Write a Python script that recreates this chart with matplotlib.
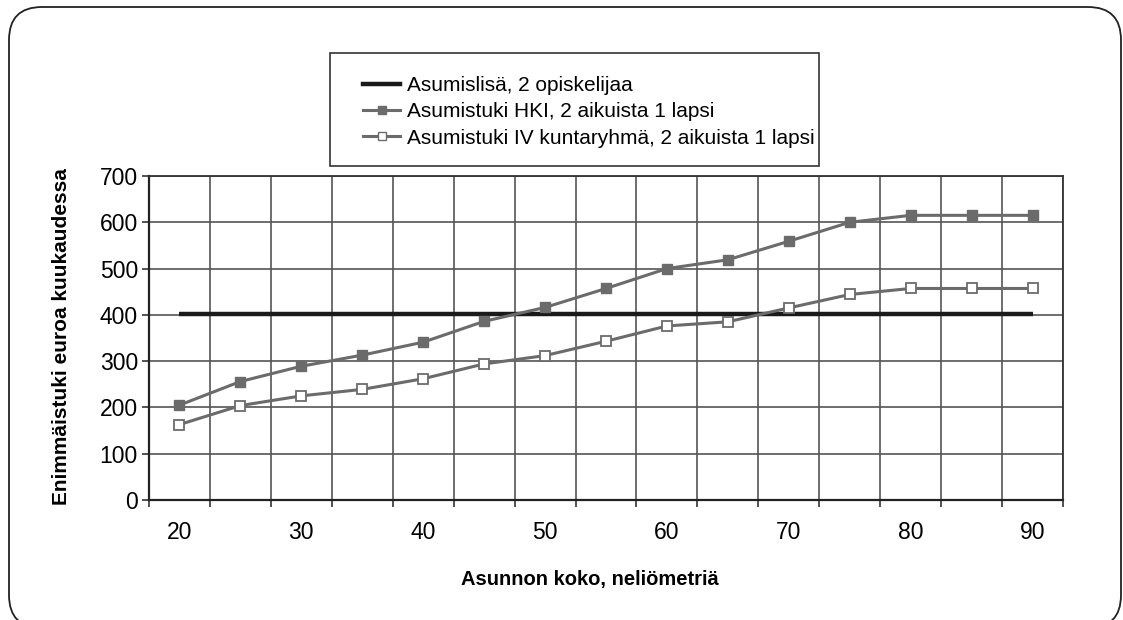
import matplotlib
matplotlib.use("Agg")
import matplotlib.pyplot as plt
from matplotlib.patches import FancyBboxPatch, Rectangle
from matplotlib.lines import Line2D
from matplotlib.ticker import FixedLocator, FixedFormatter

plt.rcParams['font.family'] = ['Liberation Sans', 'DejaVu Sans']

# Data
sizes = [20, 25, 30, 35, 40, 45, 50, 55, 60, 65, 70, 75, 80, 85, 90]
asumislisa = [402] * 15
hki = [205, 256, 289, 313, 341, 386, 416, 457, 500, 519, 559, 600, 615, 615, 615]
iv = [163, 204, 225, 239, 262, 294, 312, 343, 376, 385, 415, 444, 457, 457, 457]
tick_labels = ['20', '30', '40', '50', '60', '70', '80', '90']
labels = ['Asumislisä, 2 opiskelijaa',
          'Asumistuki HKI, 2 aikuista 1 lapsi',
          'Asumistuki IV kuntaryhmä, 2 aikuista 1 lapsi']

W, H = 1123, 620
fig = plt.figure(figsize=(W / 100, H / 100), dpi=100)

# background axes in pixel units (origin bottom-left) for frame and legend box
bg = fig.add_axes([0, 0, 1, 1])
bg.set_xlim(0, W)
bg.set_ylim(0, H)
bg.set_aspect('equal', adjustable='box')
bg.axis('off')
bg.add_patch(FancyBboxPatch((9, -8), 1112, 621, boxstyle="round,pad=0,rounding_size=33",
                            fill=False, edgecolor='#222222', linewidth=1.3))
bg.add_patch(Rectangle((330, H - 166), 489, 113, fill=False,
                       edgecolor='#333333', linewidth=1.2))

L, R, T, B = 149, 1063, 176, 500
ax = fig.add_axes([L / W, 1 - B / H, (R - L) / W, (B - T) / H])

x = list(range(len(sizes)))
gray = '#6b6b6b'
ax.plot(x, asumislisa, color='#1a1a1a', linewidth=3.2, solid_capstyle='butt', zorder=3)
ax.plot(x, hki, color=gray, linewidth=2.2, marker='s', markersize=7,
        markerfacecolor=gray, markeredgecolor=gray, zorder=4)
ax.plot(x, iv, color=gray, linewidth=2.2, marker='s', markersize=7,
        markerfacecolor='white', markeredgecolor=gray, markeredgewidth=1.3, zorder=4)

ax.set_xlim(-0.5, len(sizes) - 0.5)
ax.set_ylim(0, 700)
ax.set_yticks(range(0, 701, 100))

# category boundaries as minor ticks with grid, labels at every other category
bounds = [i - 0.5 for i in range(len(sizes) + 1)]
ax.xaxis.set_minor_locator(FixedLocator(bounds))
lab_pos = [sizes.index(int(t)) for t in tick_labels]
ax.xaxis.set_major_locator(FixedLocator(lab_pos))
ax.xaxis.set_major_formatter(FixedFormatter(tick_labels))
ax.tick_params(axis='x', which='major', length=0, pad=15, labelsize=16.5)
ax.tick_params(axis='x', which='minor', length=5, width=1.2, color='#333333')
ax.tick_params(axis='y', which='major', length=5, width=1.2, color='#333333',
               pad=3, labelsize=16.5)

ax.grid(True, axis='x', which='minor', color='#555555', linewidth=1.2)
ax.grid(True, axis='y', which='major', color='#555555', linewidth=1.2)
ax.set_axisbelow(True)

for s in ['top', 'right']:
    ax.spines[s].set_color('#333333')
    ax.spines[s].set_linewidth(1.3)
for s in ['left', 'bottom']:
    ax.spines[s].set_color('#222222')
    ax.spines[s].set_linewidth(1.6)

fig.text(590 / W, 1 - 580 / H, 'Asunnon koko, neliömetriä', ha='center', va='center',
         fontsize=14.5, fontweight='bold')
fig.text(62 / W, 1 - 337 / H, 'Enimmäistuki euroa kuukaudessa', ha='center', va='center',
         rotation=90, fontsize=15, fontweight='bold')

handles = [
    Line2D([], [], color='#1a1a1a', linewidth=3.2),
    Line2D([], [], color=gray, linewidth=2.2, marker='s', markersize=6,
           markerfacecolor=gray, markeredgecolor=gray),
    Line2D([], [], color=gray, linewidth=2.2, marker='s', markersize=6,
           markerfacecolor='white', markeredgecolor=gray),
]
fig.legend(handles, labels, loc='upper left', bbox_to_anchor=(363 / W, 1 - 76 / H),
           frameon=False, fontsize=15, handlelength=1.78, handletextpad=0.34,
           labelspacing=0.35, borderpad=0, borderaxespad=0)

fig.savefig('out.png', dpi=100)
